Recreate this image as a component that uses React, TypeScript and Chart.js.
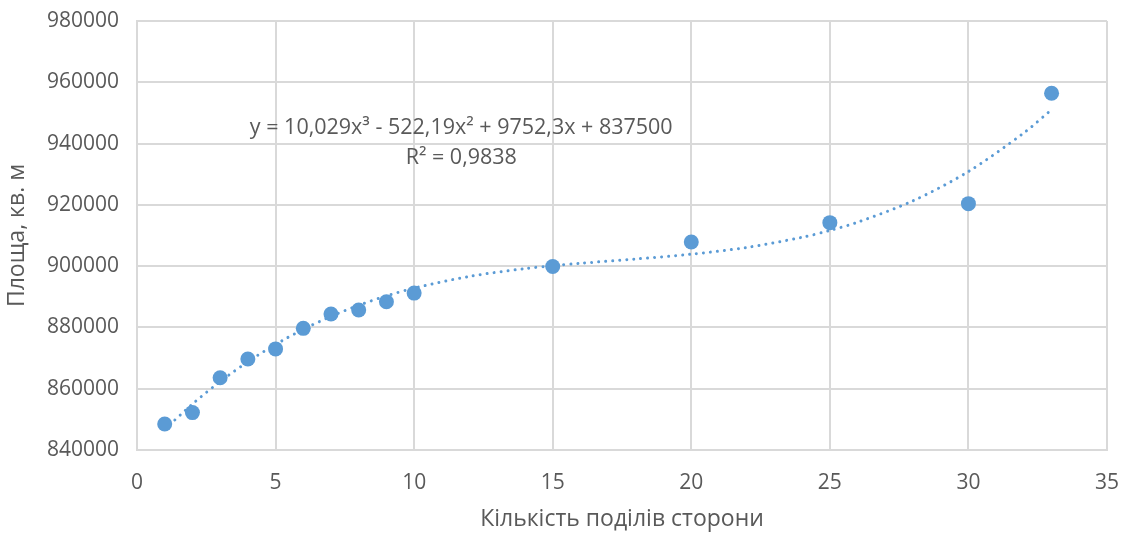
import React, { useEffect, useRef } from "react";
import { Chart, registerables } from "chart.js";

Chart.register(...registerables);

// Measured points
const pointX = [1, 2, 3, 4, 5, 6, 7, 8, 9, 10, 15, 20, 25, 30, 33];
const pointY = [
  848500, 852200, 863600, 869700, 873000, 879700, 884400, 885700, 888400,
  891200, 899900, 907900, 914200, 920400, 956400,
];

// Trendline (polynomial order 3)
const trendX = [1, 2, 3, 4, 5, 6, 7, 8, 9, 10, 12, 14, 15, 16, 18, 20, 22, 24, 25, 26, 28, 30, 32, 33];
const trendY = [
  846740, 854996, 862328, 868796, 874460, 879381, 883619, 887233, 890284,
  892833, 896662, 899203, 900140, 900935, 902341, 903902, 906099, 909415,
  911642, 914329, 921324, 930881, 943481, 951073,
];

const equationLines = ["y = 10,029x³ - 522,19x² + 9752,3x + 837500", "R² = 0,9838"];

const xTitle = "Кількість поділів сторони";
const yTitle = "Площа, кв. м";

const BLUE = "#5B9BD5";
const TEXT = "#595959";
const GRID = "#d9d9d9";
const FONT = "'Open Sans', sans-serif";

export default function App() {
  const ref = useRef<HTMLCanvasElement | null>(null);

  useEffect(() => {
    if (!ref.current) return;
    const eqPlugin = {
      id: "eqLabel",
      afterDatasetsDraw(chart: any) {
        const { ctx, scales } = chart;
        const cx = scales.x.getPixelForValue(11.7);
        const y1 = scales.y.getPixelForValue(945100);
        const y2 = scales.y.getPixelForValue(935300);
        ctx.save();
        ctx.fillStyle = TEXT;
        ctx.font = `21.5px ${FONT}`;
        ctx.textAlign = "center";
        ctx.textBaseline = "middle";
        ctx.fillText(equationLines[0], cx, y1);
        ctx.fillText(equationLines[1], cx, y2);
        ctx.restore();
      },
    };

    const chart = new Chart(ref.current, {
      type: "scatter",
      data: {
        datasets: [
          {
            label: "points",
            data: pointX.map((x, i) => ({ x, y: pointY[i] })),
            backgroundColor: BLUE,
            borderColor: BLUE,
            pointRadius: 7.5,
            pointHoverRadius: 7.5,
            borderWidth: 0,
            order: 0,
          },
          {
            label: "trend",
            type: "line",
            data: trendX.map((x, i) => ({ x, y: trendY[i] })),
            borderColor: BLUE,
            borderWidth: 3,
            borderDash: [0.01, 7],
            borderCapStyle: "round",
            pointRadius: 0,
            tension: 0.3,
            fill: false,
            order: 1,
          } as any,
        ],
      },
      options: {
        animation: false,
        responsive: false,
        maintainAspectRatio: false,
        layout: { padding: { top: 21, right: 19, left: 0, bottom: 0 } },
        plugins: {
          legend: { display: false },
          tooltip: { enabled: false },
        },
        scales: {
          x: {
            type: "linear",
            min: 0,
            max: 35,
            ticks: {
              stepSize: 5,
              color: TEXT,
              font: { family: FONT, size: 21 },
              padding: 20,
              callback: (v: any) => String(v),
            },
            grid: { color: GRID, lineWidth: 2, drawTicks: false },
            border: { color: GRID, width: 2 },
            title: {
              display: true,
              text: xTitle,
              color: TEXT,
              font: { family: FONT, size: 23 },
              padding: { top: 4, bottom: 0 },
            },
            afterFit: (s: any) => {
              s.height = 83;
              s.paddingLeft = 0;
              s.paddingRight = 0;
            },
          },
          y: {
            min: 840000,
            max: 980000,
            ticks: {
              stepSize: 20000,
              color: TEXT,
              font: { family: FONT, size: 21 },
              padding: 18,
              callback: (v: any) => String(v),
            },
            grid: { color: GRID, lineWidth: 2, drawTicks: false },
            border: { color: GRID, width: 2 },
            title: {
              display: true,
              text: yTitle,
              color: TEXT,
              font: { family: FONT, size: 23 },
              padding: { top: 4, bottom: 0 },
            },
            afterFit: (s: any) => {
              s.width = 137;
              s.paddingTop = 0;
              s.paddingBottom = 0;
            },
          },
        },
      },
      plugins: [eqPlugin],
    });
    return () => chart.destroy();
  }, []);

  return (
    <div style={{ position: "fixed", left: 0, top: 0, width: 1126, height: 533, background: "#fff" }}>
      <canvas ref={ref} width={1126} height={533} style={{ width: 1126, height: 533 }} />
    </div>
  );
}
